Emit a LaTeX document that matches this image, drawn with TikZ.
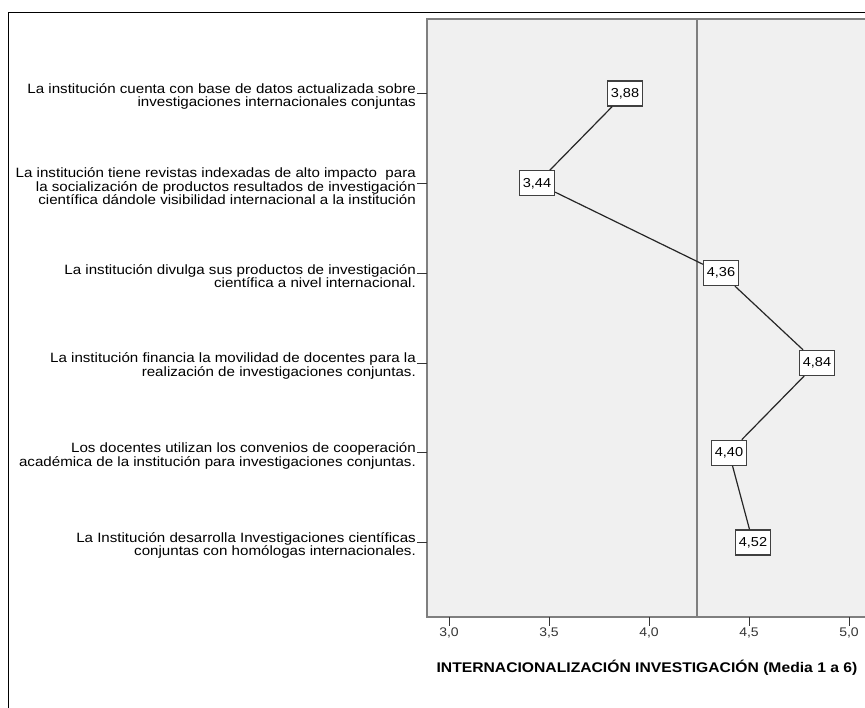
\documentclass[tikz,border=0pt]{standalone}
\usepackage{fontspec}
\setmainfont{Liberation Sans}
\newfontfamily\chartfont[FakeStretch=1.12]{Liberation Sans}
\usetikzlibrary{positioning}
\definecolor{plotbg}{HTML}{F0F0F0}
\definecolor{axisgray}{HTML}{7F7F7F}
\tikzset{
  valbox/.style={draw=black!75, fill=white, line width=1.2pt, minimum width=35pt, minimum height=25pt, inner sep=0pt, font=\chartfont\fontsize{13}{13}\selectfont},
  catlabel/.style={align=right, anchor=east, inner sep=0pt, font=\chartfont\fontsize{13.5}{13.5}\selectfont},
}

\begin{document}
\begin{tikzpicture}[x=1pt,y=-1pt]
\useasboundingbox (0,0) rectangle (865,708);
\clip (0,0) rectangle (865,708);
\draw[black] (8,12) rectangle (880,720);
\fill[plotbg] (427,19) rectangle (880,617);
\draw[axisgray, line width=1.5pt] (880,19)--(427,19)--(427,617)--(880,617);
\draw[axisgray, line width=2pt] (697,19)--(697,617);
\foreach \a/\b [count=\k from 0] in {3/0,3/5,4/0,4/5,5/0} {
  \draw[black!80, line width=1pt] ({449+200*(\a.\b-3)},617) --++(0,9) node[below, yshift=-1pt, inner sep=0, font=\chartfont\fontsize{12.5}{12.5}\selectfont] (xt\k) {\a,\b};
}
\node[font=\chartfont\bfseries\fontsize{14}{14}\selectfont] (title) at (647,668) {INTERNACIONALIZACIÓN INVESTIGACIÓN (Media 1 a 6)};
\foreach \t [count=\i] in {
  {La institución cuenta con base de datos actualizada sobre\\investigaciones internacionales conjuntas},
  {La institución tiene revistas indexadas de alto impacto\ \ para\\la socialización de productos resultados de investigación\\científica dándole visibilidad internacional a la institución},
  {La institución divulga sus productos de investigación\\científica a nivel internacional.},
  {La institución financia la movilidad de docentes para la\\realización de investigaciones conjuntas.},
  {Los docentes utilizan los convenios de cooperación\\académica de la institución para investigaciones conjuntas.},
  {La Institución desarrolla Investigaciones científicas\\conjuntas con homólogas internacionales.}} {
  \node[catlabel] (c\i) at (416,{3.7+89.8*\i+3}) {\t};
  \draw[black!80] (417,{3.7+89.8*\i}) --++(10,0);
}
\foreach \a/\b [count=\i] in {3/88,3/44,4/36,4/84,4/40,4/52} {
  \node[valbox] (v\i) at ({449+200*(\a.\b-3)},{3.7+89.8*\i}) {\a,\b};
}
\draw[black!85, line width=1.2pt] (v1)--(v2)--(v3)--(v4)--(v5)--(v6);
\end{tikzpicture}
\end{document}
